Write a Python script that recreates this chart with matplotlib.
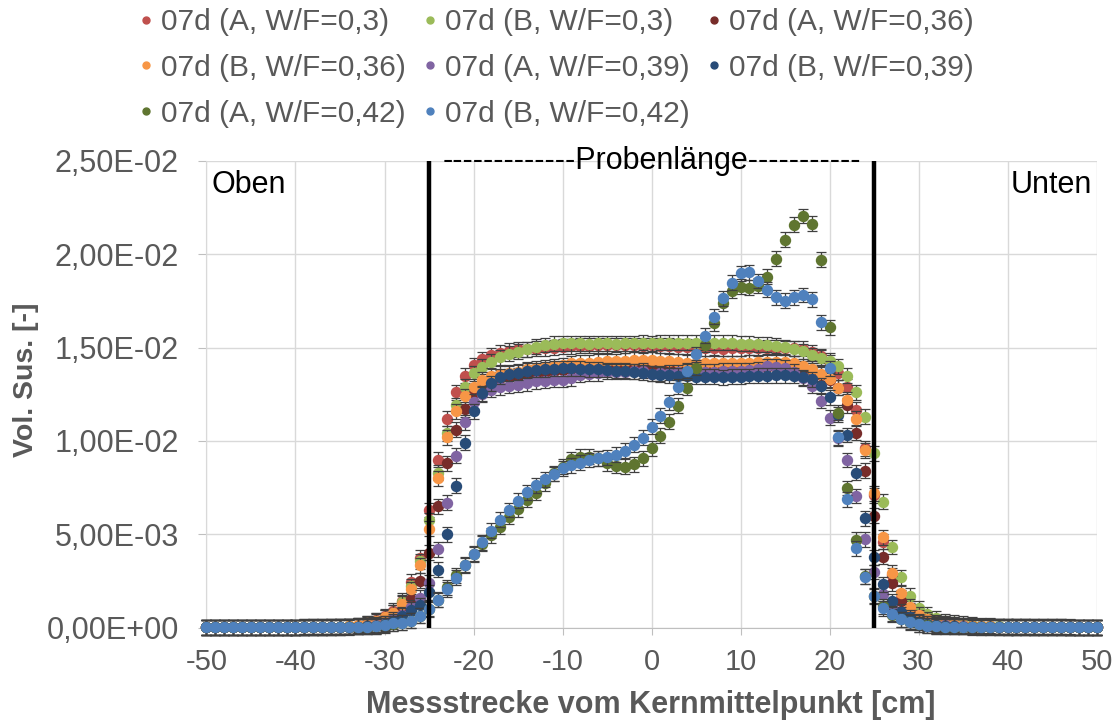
import numpy as np
import matplotlib.pyplot as plt
from matplotlib.ticker import FuncFormatter, MultipleLocator
from matplotlib.lines import Line2D

plt.rcParams['font.family'] = ['Liberation Sans', 'DejaVu Sans']
plt.rcParams['axes.unicode_minus'] = False

# Messstrecke [cm], -50 ... 50
x = np.arange(-50, 51)

# Vol. Sus. in 1e-3, rows: -50..-41, -40..-31, ..., 40..49, 50
a_030 = [0.03, 0.03, 0.03, 0.03, 0.03, 0.03, 0.03, 0.03, 0.03, 0.03,
         0.03, 0.04, 0.04, 0.05, 0.05, 0.06, 0.08, 0.11, 0.22, 0.40,
         0.60, 0.90, 1.45, 2.45, 3.75, 6.30, 9.00, 11.20, 12.60, 13.50,
         14.07, 14.37, 14.60, 14.73, 14.84, 14.90, 14.92, 14.95, 14.97, 15.00,
         15.04, 15.08, 15.10, 15.10, 15.12, 15.12, 15.14, 15.12, 15.14, 15.10,
         15.14, 15.10, 15.10, 15.05, 15.05, 15.00, 14.96, 14.96, 14.95, 14.96,
         14.97, 14.98, 14.96, 15.00, 15.00, 14.98, 14.96, 14.93, 14.75, 14.55,
         14.20, 13.66, 12.90, 11.66, 9.60, 7.10, 4.60, 2.80, 1.60, 1.00,
         0.62, 0.42, 0.30, 0.22, 0.17, 0.13, 0.10, 0.08, 0.07, 0.06,
         0.05, 0.05, 0.05, 0.04, 0.04, 0.04, 0.04, 0.03, 0.03, 0.03,
         0.03]
b_030 = [0.03, 0.03, 0.03, 0.03, 0.03, 0.03, 0.03, 0.03, 0.03, 0.03,
         0.03, 0.03, 0.04, 0.04, 0.05, 0.06, 0.07, 0.10, 0.18, 0.33,
         0.52, 0.80, 1.35, 2.22, 3.55, 5.75, 8.30, 10.40, 11.90, 12.90,
         13.63, 13.98, 14.25, 14.48, 14.66, 14.79, 14.90, 15.05, 15.14, 15.20,
         15.23, 15.23, 15.24, 15.20, 15.23, 15.23, 15.20, 15.23, 15.23, 15.26,
         15.23, 15.27, 15.27, 15.25, 15.27, 15.25, 15.27, 15.25, 15.27, 15.25,
         15.22, 15.22, 15.18, 15.15, 15.10, 15.02, 14.95, 14.80, 14.60, 14.45,
         14.30, 14.00, 13.50, 12.60, 11.30, 9.35, 6.75, 4.32, 2.70, 1.72,
         1.03, 0.72, 0.50, 0.35, 0.28, 0.20, 0.15, 0.11, 0.09, 0.07,
         0.06, 0.06, 0.05, 0.05, 0.05, 0.04, 0.04, 0.04, 0.03, 0.03,
         0.03]
a_036 = [0.02, 0.02, 0.02, 0.02, 0.02, 0.02, 0.02, 0.02, 0.02, 0.02,
         0.02, 0.03, 0.03, 0.03, 0.04, 0.04, 0.05, 0.07, 0.13, 0.25,
         0.38, 0.62, 0.97, 1.52, 2.52, 4.00, 6.50, 8.80, 10.60, 11.70,
         12.55, 13.00, 13.27, 13.38, 13.48, 13.53, 13.60, 13.65, 13.70, 13.75,
         13.80, 13.85, 13.88, 13.90, 13.92, 13.92, 13.95, 13.95, 13.95, 13.95,
         13.95, 13.97, 13.95, 13.93, 13.88, 13.85, 13.82, 13.80, 13.80, 13.82,
         13.83, 13.85, 13.88, 13.95, 13.95, 13.92, 13.90, 13.88, 13.80, 13.55,
         13.25, 12.85, 11.90, 10.45, 8.40, 6.00, 3.80, 2.38, 1.40, 0.85,
         0.52, 0.33, 0.23, 0.17, 0.13, 0.10, 0.08, 0.06, 0.05, 0.05,
         0.04, 0.04, 0.04, 0.03, 0.03, 0.03, 0.03, 0.03, 0.02, 0.02,
         0.02]
b_036 = [0.03, 0.03, 0.03, 0.03, 0.03, 0.03, 0.03, 0.03, 0.03, 0.03,
         0.03, 0.04, 0.04, 0.05, 0.05, 0.06, 0.08, 0.14, 0.23, 0.37,
         0.55, 0.80, 1.28, 2.05, 3.35, 5.30, 8.00, 10.20, 11.60, 12.40,
         12.90, 13.27, 13.50, 13.60, 13.66, 13.70, 13.84, 13.90, 13.95, 14.00,
         14.07, 14.15, 14.20, 14.20, 14.25, 14.27, 14.28, 14.30, 14.34, 14.34,
         14.34, 14.30, 14.28, 14.25, 14.20, 14.16, 14.16, 14.18, 14.15, 14.16,
         14.16, 14.20, 14.22, 14.25, 14.25, 14.25, 14.15, 14.00, 13.86, 13.60,
         13.30, 12.86, 12.20, 11.20, 9.50, 7.20, 4.83, 2.95, 1.85, 1.12,
         0.68, 0.45, 0.30, 0.22, 0.17, 0.13, 0.10, 0.08, 0.07, 0.06,
         0.05, 0.05, 0.05, 0.04, 0.04, 0.04, 0.04, 0.03, 0.03, 0.03,
         0.03]
a_039 = [0.02, 0.02, 0.02, 0.02, 0.02, 0.02, 0.02, 0.02, 0.02, 0.02,
         0.02, 0.02, 0.03, 0.03, 0.03, 0.04, 0.05, 0.06, 0.09, 0.15,
         0.25, 0.45, 0.70, 1.10, 1.60, 2.40, 4.20, 6.70, 9.20, 11.00,
         12.10, 12.50, 12.73, 12.87, 12.95, 13.00, 13.10, 13.20, 13.23, 13.27,
         13.27, 13.35, 13.54, 13.60, 13.62, 13.71, 13.70, 13.72, 13.74, 13.75,
         13.60, 13.62, 13.65, 13.68, 13.70, 13.70, 13.72, 13.72, 13.75, 13.75,
         13.75, 13.78, 13.85, 14.00, 13.98, 13.92, 13.70, 13.35, 12.95, 12.14,
         11.25, 10.15, 8.98, 7.05, 4.73, 2.98, 1.82, 1.07, 0.68, 0.45,
         0.30, 0.22, 0.16, 0.12, 0.10, 0.08, 0.06, 0.05, 0.04, 0.04,
         0.03, 0.03, 0.03, 0.03, 0.03, 0.03, 0.03, 0.03, 0.03, 0.03,
         0.03]
b_039 = [0.02, 0.02, 0.02, 0.02, 0.02, 0.02, 0.02, 0.02, 0.02, 0.02,
         0.02, 0.02, 0.02, 0.03, 0.03, 0.03, 0.04, 0.05, 0.07, 0.11,
         0.20, 0.35, 0.65, 0.95, 1.20, 1.89, 3.10, 5.00, 7.60, 9.90,
         11.60, 12.55, 13.10, 13.45, 13.60, 13.66, 13.77, 13.80, 13.84, 13.86,
         13.90, 13.90, 13.88, 13.85, 13.85, 13.80, 13.77, 13.75, 13.70, 13.65,
         13.60, 13.55, 13.52, 13.50, 13.48, 13.45, 13.45, 13.45, 13.42, 13.45,
         13.45, 13.48, 13.50, 13.50, 13.52, 13.52, 13.50, 13.42, 13.30, 12.95,
         12.35, 11.40, 10.32, 8.30, 5.86, 3.77, 2.32, 1.41, 0.84, 0.56,
         0.32, 0.20, 0.13, 0.10, 0.08, 0.06, 0.05, 0.04, 0.04, 0.03,
         0.03, 0.03, 0.03, 0.03, 0.03, 0.03, 0.03, 0.03, 0.03, 0.03,
         0.03]
a_042 = [0.02, 0.02, 0.02, 0.02, 0.02, 0.02, 0.02, 0.02, 0.02, 0.02,
         0.02, 0.02, 0.02, 0.03, 0.03, 0.03, 0.04, 0.04, 0.05, 0.07,
         0.12, 0.20, 0.27, 0.38, 0.65, 1.00, 1.50, 2.15, 2.80, 3.38,
         3.92, 4.50, 4.96, 5.40, 5.95, 6.34, 6.84, 7.23, 7.73, 8.27,
         8.63, 9.02, 9.16, 9.16, 9.07, 8.80, 8.66, 8.63, 8.75, 9.07,
         9.60, 10.27, 11.04, 11.88, 12.86, 13.93, 15.14, 16.30, 17.38, 18.04,
         18.27, 18.21, 18.32, 18.80, 19.75, 20.77, 21.57, 22.05, 21.63, 19.70,
         16.09, 11.50, 7.48, 4.70, 2.76, 1.69, 1.15, 0.70, 0.45, 0.30,
         0.18, 0.12, 0.08, 0.06, 0.05, 0.04, 0.04, 0.03, 0.03, 0.03,
         0.02, 0.02, 0.02, 0.02, 0.02, 0.02, 0.02, 0.02, 0.02, 0.02,
         0.02]
b_042 = [0.02, 0.02, 0.02, 0.02, 0.02, 0.02, 0.02, 0.02, 0.02, 0.02,
         0.02, 0.02, 0.02, 0.02, 0.03, 0.03, 0.03, 0.04, 0.05, 0.08,
         0.14, 0.23, 0.27, 0.38, 0.63, 0.98, 1.48, 2.05, 2.68, 3.33,
         3.97, 4.57, 5.18, 5.77, 6.30, 6.80, 7.25, 7.63, 7.95, 8.23,
         8.54, 8.71, 8.84, 8.98, 9.07, 9.12, 9.25, 9.48, 9.79, 10.18,
         10.77, 11.36, 12.07, 12.91, 13.77, 14.64, 15.64, 16.66, 17.64, 18.48,
         18.98, 19.04, 18.57, 18.09, 17.70, 17.52, 17.70, 17.82, 17.59, 16.36,
         13.90, 10.20, 6.88, 4.25, 2.72, 1.70, 1.05, 0.74, 0.46, 0.32,
         0.17, 0.10, 0.07, 0.05, 0.04, 0.04, 0.03, 0.03, 0.03, 0.02,
         0.02, 0.02, 0.02, 0.02, 0.02, 0.02, 0.02, 0.02, 0.02, 0.02,
         0.02]

series = [a_030, b_030, a_036, b_036, a_039, b_039, a_042, b_042]
labels = ["07d (A, W/F=0,3)", "07d (B, W/F=0,3)", "07d (A, W/F=0,36)",
          "07d (B, W/F=0,36)", "07d (A, W/F=0,39)", "07d (B, W/F=0,39)",
          "07d (A, W/F=0,42)", "07d (B, W/F=0,42)"]
colors = ["#C0504D", "#9BBB59", "#772C2A", "#F79646",
          "#8064A2", "#284C78", "#5F7530", "#4F81BD"]
err = [0.4, 0.4, 0.4, 0.4, 0.4, 0.4, 0.4, 0.4]  # 1e-3

grey = "#595959"
fig = plt.figure(figsize=(11.18, 7.22), dpi=100)
ax = fig.add_axes([0.1847, 0.1307, 0.7961, 0.6464])

for i, (s, c) in enumerate(zip(series, colors)):
    y = np.array(s) * 1e-3
    eb = ax.errorbar(x, y, yerr=err[i] * 1e-3, fmt='o', color=c, ms=7.2,
                     mec=c, ecolor="#404040", elinewidth=0.9, capsize=3.5,
                     capthick=0.9, zorder=3 + i * 0.1)
    for art in eb.get_children():
        art.set_clip_on(False)

ax.vlines([-25, 25], 0, 0.025, color="black", lw=3.2, zorder=5)

ax.set_xlim(-50, 50)
ax.set_ylim(0, 0.025)
ax.xaxis.set_major_locator(MultipleLocator(10))
ax.yaxis.set_major_locator(MultipleLocator(0.005))
ax.yaxis.set_major_formatter(FuncFormatter(lambda v, p: f"{v:.2E}".replace(".", ",")))
ax.grid(True, color="#D9D9D9", lw=1)
ax.set_axisbelow(True)
for sp in ["top", "right"]:
    ax.spines[sp].set_visible(False)
ax.spines["left"].set_color("#D9D9D9")
ax.spines["bottom"].set_color("#BFBFBF")
ax.tick_params(axis="y", colors="#BFBFBF", labelcolor=grey, labelsize=22,
               length=6, pad=14)
ax.tick_params(axis="x", colors="#BFBFBF", labelcolor=grey, labelsize=21,
               length=5, pad=10)

ax.text(-49.4, 0.0237, "Oben", fontsize=22, va="center", ha="left")
ax.text(49.5, 0.0237, "Unten", fontsize=22, va="center", ha="right")
ax.text(0, 0.0250, "-------------Probenlänge-----------", fontsize=22,
        va="center", ha="center")

fig.text(651 / 1118, 1 - 705 / 722, "Messstrecke vom Kernmittelpunkt [cm]",
         fontsize=22, fontweight="bold", color=grey, ha="center", va="center")
fig.text(26 / 1118, 1 - 380 / 722, "Vol. Sus. [-]", fontsize=20.5,
         fontweight="bold", color=grey, ha="center", va="center", rotation=90)

# legend in row-major order like the original
order = [0, 3, 6, 1, 4, 7, 2, 5]
handles = [Line2D([], [], ls="none", marker="o", ms=5, color=colors[i]) for i in order]
fig.legend(handles, [labels[i] for i in order], ncol=3, loc="upper left",
           bbox_to_anchor=(139 / 1118, 1 - 8 / 722), frameon=False,
           fontsize=21.5, labelcolor=grey, handlelength=0.5, handletextpad=0.25,
           columnspacing=0.55, labelspacing=0.6, borderpad=0, borderaxespad=0)

fig.savefig("out.png", dpi=100)
